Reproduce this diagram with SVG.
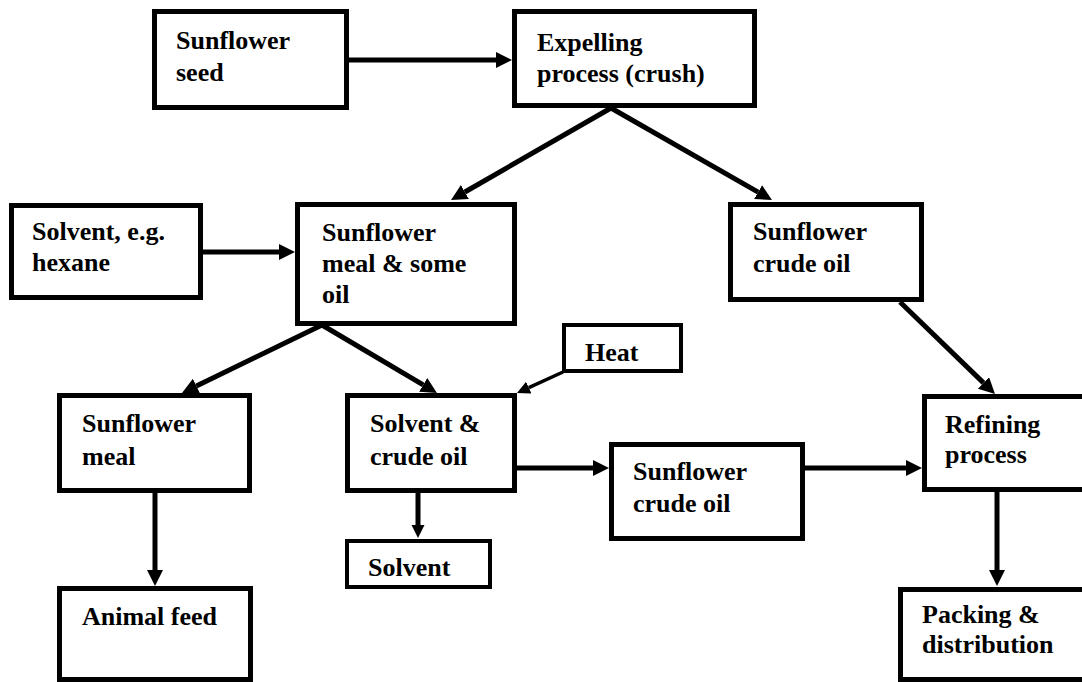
<svg xmlns="http://www.w3.org/2000/svg" width="1082" height="682" viewBox="0 0 1082 682">
<style>
.box{fill:#fff;stroke:#000;stroke-width:5}
.sbox{fill:#fff;stroke:#000;stroke-width:4}
.t{font-family:"Liberation Serif","Times New Roman","DejaVu Serif",serif;font-weight:bold;font-size:26px;fill:#000}
.c{stroke:#000;stroke-width:5;fill:none}
.cs{stroke:#000;stroke-width:3.5;fill:none}
</style>
<defs>
<marker id="ah" markerUnits="userSpaceOnUse" markerWidth="17" markerHeight="17" refX="0" refY="8" orient="auto" viewBox="0 0 17 17">
<path d="M0,0 L16,8 L0,16 Z" fill="#000"/>
</marker>
<marker id="ahs" markerUnits="userSpaceOnUse" markerWidth="14" markerHeight="14" refX="0" refY="6.5" orient="auto" viewBox="0 0 14 14">
<path d="M0,0 L13,6.5 L0,13 Z" fill="#000"/>
</marker>
</defs>
<rect width="1082" height="682" fill="#fff"/>
<g id="connectors">
<line class="c" x1="349" y1="60" x2="496" y2="60" marker-end="url(#ah)"/>
<line class="c" x1="203" y1="252" x2="279" y2="252" marker-end="url(#ah)"/>
<line class="c" x1="611" y1="108" x2="464.9" y2="192" marker-end="url(#ah)"/>
<line class="c" x1="611" y1="108" x2="758.1" y2="192.1" marker-end="url(#ah)"/>
<line class="c" x1="322" y1="325" x2="196.4" y2="386" marker-end="url(#ah)"/>
<line class="c" x1="322" y1="325" x2="423.2" y2="384.9" marker-end="url(#ah)"/>
<line class="cs" x1="563" y1="372" x2="528.8" y2="387.6" marker-end="url(#ahs)"/>
<line class="c" x1="155" y1="493" x2="155" y2="570" marker-end="url(#ah)"/>
<line class="c" x1="418" y1="493" x2="418" y2="525" marker-end="url(#ahs)"/>
<line class="c" x1="517" y1="468" x2="593" y2="468" marker-end="url(#ah)"/>
<line class="c" x1="805" y1="468" x2="906" y2="468" marker-end="url(#ah)"/>
<line class="c" x1="900" y1="302" x2="983.5" y2="382.9" marker-end="url(#ah)"/>
<line class="c" x1="997" y1="492" x2="997" y2="570" marker-end="url(#ah)"/>
</g>
<g font-family="Liberation Serif, Times New Roman, serif">
<g id="seed"><rect class="box" x="154.5" y="11.5" width="192" height="96"/><text class="t" x="176" y="49">Sunflower</text><text class="t" x="176" y="81">seed</text></g>
<g id="expelling"><rect class="box" x="514.5" y="11.5" width="240" height="94"/><text class="t" x="537" y="51">Expelling</text><text class="t" x="537" y="82">process (crush)</text></g>
<g id="hexane"><rect class="box" x="11.5" y="205.5" width="189" height="92"/><text class="t" x="32" y="240">Solvent, e.g.</text><text class="t" x="32" y="271">hexane</text></g>
<g id="meal-oil"><rect class="box" x="297.5" y="204.5" width="217" height="119"/><text class="t" x="322" y="241">Sunflower</text><text class="t" x="322" y="272">meal &amp; some</text><text class="t" x="322" y="303">oil</text></g>
<g id="crude-top"><rect class="box" x="730.5" y="204.5" width="191" height="95"/><text class="t" x="753" y="240">Sunflower</text><text class="t" x="753" y="272">crude oil</text></g>
<g id="heat"><rect class="sbox" x="564" y="325" width="117" height="46"/><text class="t" x="585" y="361">Heat</text></g>
<g id="meal"><rect class="box" x="59.5" y="395.5" width="190" height="95"/><text class="t" x="82" y="432">Sunflower</text><text class="t" x="82" y="465">meal</text></g>
<g id="solvent-crude"><rect class="box" x="347.5" y="395.5" width="167" height="95"/><text class="t" x="370" y="432">Solvent &amp;</text><text class="t" x="370" y="465">crude oil</text></g>
<g id="crude-mid"><rect class="box" x="611.5" y="444.5" width="191" height="94"/><text class="t" x="633" y="480">Sunflower</text><text class="t" x="633" y="512">crude oil</text></g>
<g id="refining"><rect class="box" x="924.5" y="396.5" width="160" height="93"/><text class="t" x="945" y="433">Refining</text><text class="t" x="945" y="463">process</text></g>
<g id="solvent"><rect class="sbox" x="347" y="541" width="143" height="46"/><text class="t" x="368" y="576">Solvent</text></g>
<g id="animal-feed"><rect class="box" x="59.5" y="588.5" width="191" height="91"/><text class="t" x="82" y="625">Animal feed</text></g>
<g id="packing"><rect class="box" x="900.5" y="589.5" width="185" height="90"/><text class="t" x="922" y="623">Packing &amp;</text><text class="t" x="922" y="653">distribution</text></g>
</g>
</svg>
